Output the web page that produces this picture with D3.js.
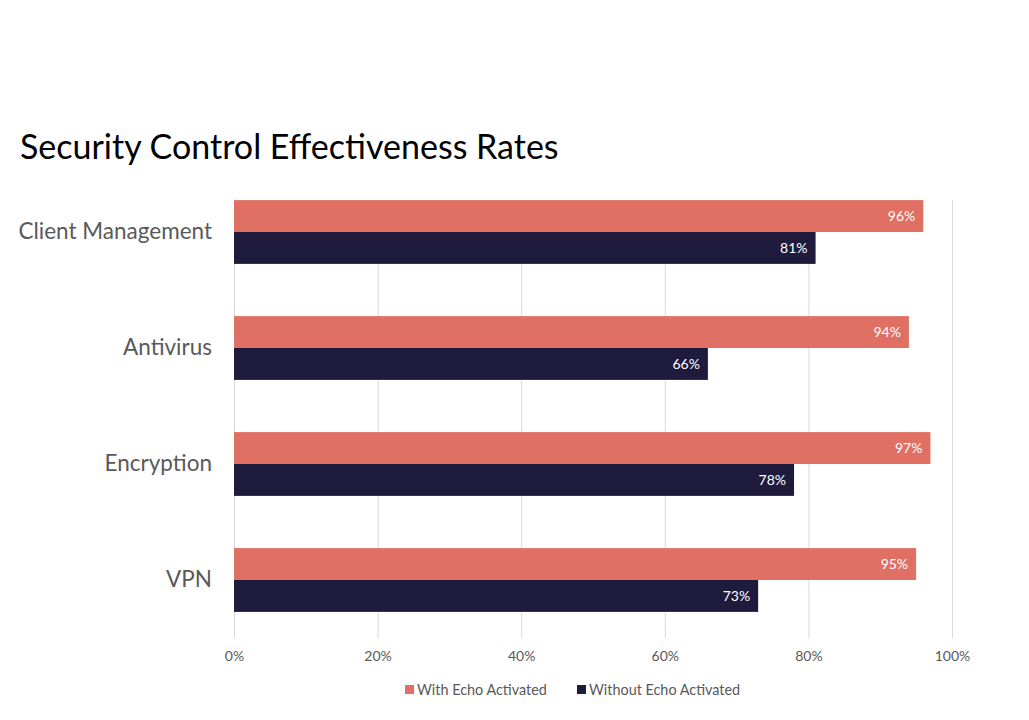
<!DOCTYPE html>
<html>
<head>
<meta charset="utf-8">
<script src="https://d3js.org/d3.v7.min.js"></script>
<style>
  body { margin: 0; background: #fff; }
  svg text { font-family: Lato, "Open Sans", sans-serif; }
</style>
</head>
<body>
<svg id="chart" width="1029" height="720"></svg>
<script>
var categories = ["Client Management", "Antivirus", "Encryption", "VPN"];
var seriesNames = ["With Echo Activated", "Without Echo Activated"];
var withEcho = [0.96, 0.94, 0.97, 0.95];
var withoutEcho = [0.81, 0.66, 0.78, 0.73];
var tickValues = [0, 0.2, 0.4, 0.6, 0.8, 1.0];
var colors = ["#E07063", "#1E1B3C"];

var svg = d3.select("#chart");

var rows = categories.map(function(c, i) {
  return { cat: c, values: [withEcho[i], withoutEcho[i]] };
});

var x = d3.scaleLinear().domain([0, 1]).range([234, 952]);
var y0 = d3.scaleBand().domain(categories).range([174, 638])
  .paddingInner(0.45).paddingOuter(0.225);
var y1 = d3.scaleBand().domain(seriesNames).range([0, y0.bandwidth()]);

// title
svg.append("text")
  .attr("x", 20).attr("y", 159)
  .attr("font-size", 34)
  .attr("fill", "#000")
  .text("Security Control Effectiveness Rates");

// gridlines
var gridTop = y0(categories[0]);
svg.append("g").selectAll("line")
  .data(tickValues)
  .enter().append("line")
  .attr("x1", function(d) { return x(d) + 0.5; })
  .attr("x2", function(d) { return x(d) + 0.5; })
  .attr("y1", gridTop)
  .attr("y2", 638)
  .attr("stroke", "#d9d9d9")
  .attr("stroke-width", 1);

// x axis tick labels
var xAxis = d3.axisBottom(x).tickValues(tickValues)
  .tickFormat(d3.format(".0%")).tickSize(0).tickPadding(0);
var gx = svg.append("g").attr("transform", "translate(0,653)").call(xAxis);
gx.select(".domain").remove();
gx.selectAll("text")
  .attr("font-family", "Lato, 'Open Sans', sans-serif")
  .attr("font-size", 14)
  .attr("fill", "#595959")
  .attr("dy", "0.6em");

// y category labels
var yAxis = d3.axisLeft(y0).tickSize(0).tickPadding(0);
var gy = svg.append("g").attr("transform", "translate(212,0)").call(yAxis);
gy.select(".domain").remove();
gy.selectAll("text")
  .attr("font-family", "Lato, 'Open Sans', sans-serif")
  .attr("font-size", 22.5)
  .attr("fill", "#595959");

// bars
var groups = svg.append("g").selectAll("g")
  .data(rows)
  .enter().append("g")
  .attr("transform", function(d) { return "translate(0," + y0(d.cat) + ")"; });

var cells = groups.selectAll("g")
  .data(function(d) {
    return d.values.map(function(v, i) { return { name: seriesNames[i], value: v, idx: i }; });
  })
  .enter().append("g");

cells.append("rect")
  .attr("x", x(0))
  .attr("y", function(d) { return y1(d.name); })
  .attr("width", function(d) { return x(d.value) - x(0); })
  .attr("height", y1.bandwidth())
  .attr("fill", function(d) { return colors[d.idx]; });

cells.append("text")
  .attr("x", function(d) { return x(d.value) - 8; })
  .attr("y", function(d) { return y1(d.name) + y1.bandwidth() / 2; })
  .attr("dy", "0.35em")
  .attr("text-anchor", "end")
  .attr("font-size", 14)
  .attr("fill", "#fff")
  .text(function(d) { return d3.format(".0%")(d.value); });

// legend
var legendX = [405, 577];
var legend = svg.append("g").selectAll("g")
  .data(seriesNames)
  .enter().append("g")
  .attr("transform", function(d, i) { return "translate(" + legendX[i] + ",685)"; });

legend.append("rect")
  .attr("width", 9).attr("height", 9)
  .attr("fill", function(d, i) { return colors[i]; });

legend.append("text")
  .attr("x", 12).attr("y", 4.5)
  .attr("dy", "0.35em")
  .attr("font-size", 14.4)
  .attr("fill", "#595959")
  .text(function(d) { return d; });
</script>
</body>
</html>
